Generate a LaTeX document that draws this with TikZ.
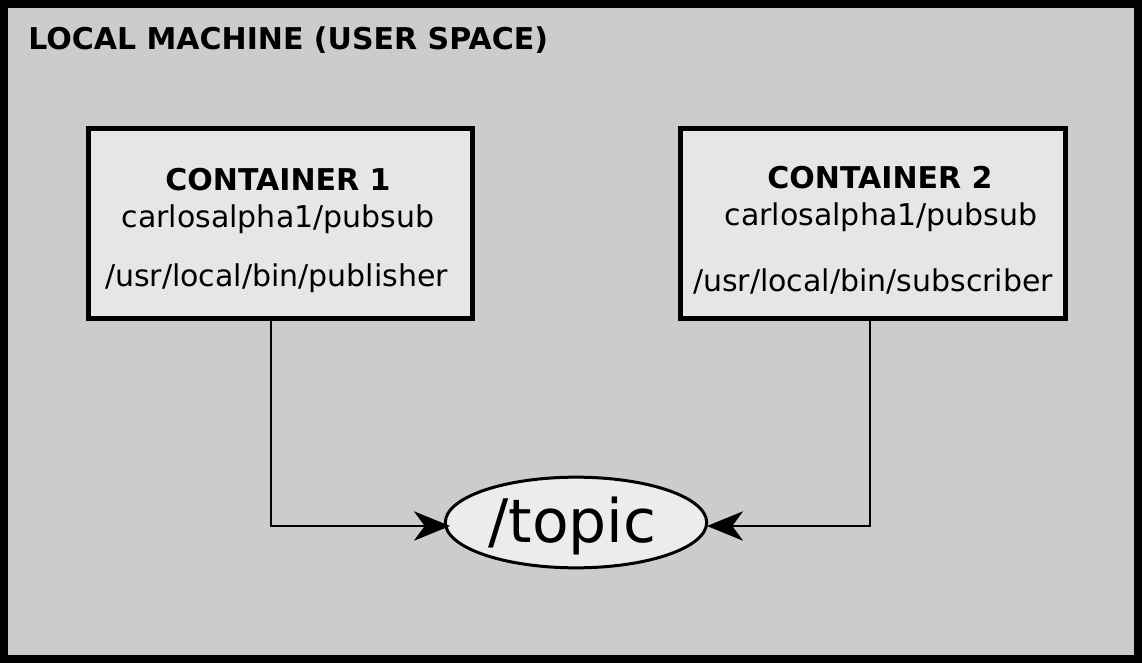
\documentclass[tikz,border=0pt]{standalone}
\usepackage{fontspec}
\setmainfont{DejaVu Sans}
\usetikzlibrary{arrows.meta,shapes.geometric}
\definecolor{bgray}{HTML}{CCCCCC}
\definecolor{boxgray}{HTML}{E6E6E6}
\definecolor{ellgray}{HTML}{ECECEC}
\begin{document}
\begin{tikzpicture}[x=0.75pt,y=-0.75pt,
  machine/.style={draw=black,line width=6pt,fill=bgray},
  cbox/.style={draw=black,line width=3.75pt,fill=boxgray},
  txt/.style={inner sep=0pt,anchor=base,font=\fontsize{22.5pt}{27pt}\selectfont},
  btxt/.style={txt,font=\fontsize{22.5pt}{27pt}\selectfont\bfseries},
  topicnode/.style={ellipse,draw=black,line width=2.25pt,fill=ellgray,minimum width=196pt,minimum height=68pt,inner sep=0pt},
  conn/.style={draw=black,line width=1.5pt,-{Stealth[length=27pt,width=22pt,inset=8pt]}}]
\useasboundingbox (0,0) rectangle (1142,663);
\draw[machine] (4,4) rectangle (1138,659);
\node[txt,anchor=base west,font=\fontsize{22.5pt}{27pt}\selectfont\bfseries] (title) at (28,50) {LOCAL MACHINE (USER SPACE)};
% container 1
\draw[cbox] (88.5,129) rectangle (472,318.5);
\coordinate (c1s) at (271,318.5);
\node[btxt] (c1t) at (278,190.5) {CONTAINER 1};
\node[txt] (c1i) at (278,228) {carlosalpha1/pubsub};
\node[txt] (c1p) at (276.5,286) {/usr/local/bin/publisher};
% container 2
\draw[cbox] (680.5,129) rectangle (1065,318.5);
\coordinate (c2s) at (870,318.5);
\node[btxt] (c2t) at (880,189) {CONTAINER 2};
\node[txt] (c2i) at (881,225.5) {carlosalpha1/pubsub};
\node[txt] (c2p) at (873,291) {/usr/local/bin/subscriber};
% topic
\node[topicnode] (topic) at (576,522.5) {};
\node[inner sep=0pt,anchor=base,font=\fontsize{45pt}{54pt}\selectfont] (topictxt) at (572.5,542.5) {/topic};
\coordinate (j1) at (271,526);
\coordinate (j2) at (870,526);
\coordinate (e1) at (450,526);
\coordinate (e2) at (707,526);
\draw[conn] (c1s) -- (j1) -- (e1);
\draw[conn] (c2s) -- (j2) -- (e2);
\end{tikzpicture}
\end{document}
